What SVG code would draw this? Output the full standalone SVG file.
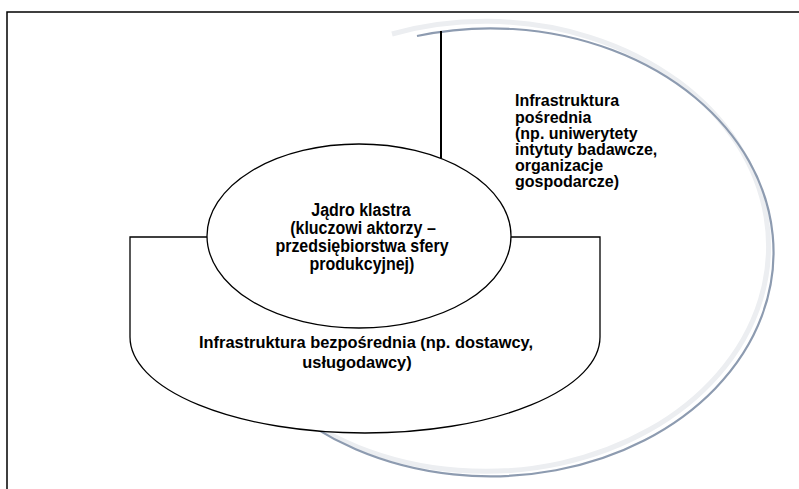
<svg xmlns="http://www.w3.org/2000/svg" width="799" height="489" viewBox="0 0 799 489">
<defs>
<style>
.frame{fill:none;stroke:#000;stroke-width:1.5}
.shape{fill:#fff;stroke:#000;stroke-width:1.3}
.line{fill:none;stroke:#000;stroke-width:2}
.halo{fill:none;stroke:#eceef1;stroke-width:5}
.shadow{fill:none;stroke:#8d9bb0;stroke-width:2.2}
text{font-family:"Liberation Sans",Arial,sans-serif;font-weight:bold;fill:#000}
.c{font-size:16px;text-anchor:middle}
.b{font-size:16.4px;text-anchor:middle}
.r{font-size:16px}
</style>
</defs>
<rect width="799" height="489" fill="#fff"/>
<g id="frame">
<path class="frame" d="M7,489 V12 H799"/>
</g>
<g id="infrastruktura-posrednia">
<path class="halo" d="M392,34 A283,225 0 1 1 280,401"/>
<path class="shadow" d="M417,36 A283,224 0 1 1 280,402"/>
</g>
<g id="infrastruktura-bezposrednia">
<path class="shape" d="M207,237 H130 V337 A235,96 0 0 0 600,337 V237 H511"/>
</g>
<g id="jadro-klastra">
<ellipse class="shape" cx="359" cy="236" rx="152" ry="92"/>
</g>
<g id="connectors">
<line class="line" x1="441" y1="31" x2="441" y2="158"/>
</g>
<g id="labels">
<g transform="translate(0,243) scale(1,1.1) translate(0,-243)">
<text class="c"><tspan x="361" y="218.2">Jądro klastra</tspan><tspan x="363" y="234.6">(kluczowi aktorzy –</tspan><tspan x="362" y="251.1">przedsiębiorstwa sfery</tspan><tspan x="362" y="267.5">produkcyjnej)</tspan></text>
</g>
<text class="r"><tspan x="515" y="106.3">Infrastruktura</tspan><tspan x="515" y="122.5">pośrednia</tspan><tspan x="515" y="138.7">(np. uniwerytety</tspan><tspan x="515" y="154.9">intytuty badawcze,</tspan><tspan x="515" y="171.1">organizacje</tspan><tspan x="515" y="187.3">gospodarcze)</tspan></text>
<text class="b"><tspan x="366" y="348">Infrastruktura bezpośrednia (np. dostawcy,</tspan><tspan x="357" y="368">usługodawcy)</tspan></text>
</g>
</svg>
